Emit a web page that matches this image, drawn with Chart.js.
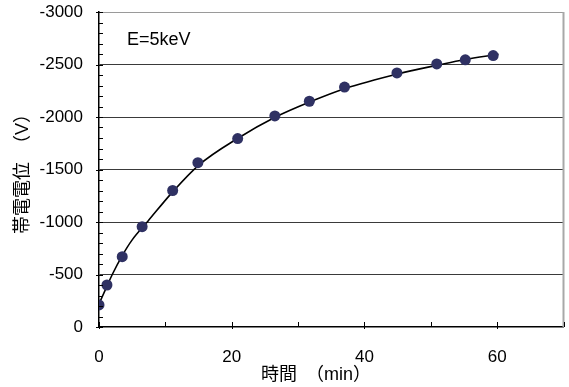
<!DOCTYPE html>
<html>
<head>
<meta charset="utf-8">
<script src="https://cdn.jsdelivr.net/npm/chart.js@4/dist/chart.umd.min.js"></script>
<style>
  html, body { margin: 0; padding: 0; background: #fff; }
  canvas { display: block; }
</style>
</head>
<body>
<canvas id="c" width="569" height="387"></canvas>
<script>
// Measured charging potential (V) versus irradiation time (min)
const measTime = [0, 1.2, 3.5, 6.5, 11.1, 14.9, 20.9, 26.5, 31.7, 37.0, 44.9, 50.9, 55.2, 59.4];
const measVolt = [-210, -400, -670, -955, -1300, -1565, -1795, -2010, -2150, -2285, -2420, -2505, -2545, -2585];

// Fitted trend curve, read at a few points along its length
const fitTime = [0, 1, 2, 3.5, 5, 7.4, 11, 15, 21, 26.6, 32, 37, 45, 51.5, 55, 60.2];
const fitVolt = [-220, -360, -500, -680, -830, -1010, -1280, -1540, -1800, -2000, -2150, -2270, -2410, -2500, -2545, -2597];

// Axis ticks
const xTickLabels = [0, 20, 40, 60];
const yTickLabels = [0, -500, -1000, -1500, -2000, -2500, -3000];
const xMinorStep = 10;
const yMinorStep = 100;

const annotationText = 'E=5keV';
const xTitle = '時間　（min）';
const yTitle = '帯電電位　（V）';

const LATIN = '"Liberation Sans", Arial, sans-serif';
const MIXED = '"Liberation Sans", "Noto Sans CJK JP", sans-serif';

const decorations = {
  id: 'decorations',
  afterDatasetsDraw(chart) {
    const { ctx, chartArea: a, scales: { x, y } } = chart;
    ctx.save();
    // right frame edge
    ctx.strokeStyle = '#a8a8a8';
    ctx.lineWidth = 2;
    ctx.beginPath();
    ctx.moveTo(a.right, a.top);
    ctx.lineTo(a.right, a.bottom);
    ctx.stroke();

    // tick marks on the axes
    ctx.strokeStyle = '#000';
    ctx.lineWidth = 1;
    ctx.beginPath();
    for (let v = y.min; v <= y.max; v += yMinorStep) {
      const py = Math.round(y.getPixelForValue(v)) + 0.5;
      const major = yTickLabels.includes(v);
      ctx.moveTo(a.left - (major ? 3 : 0), py);
      ctx.lineTo(a.left + 4, py);
    }
    for (let v = x.min; v <= x.max; v += xMinorStep) {
      const px = Math.round(x.getPixelForValue(v)) + 0.5;
      const major = xTickLabels.includes(v);
      ctx.moveTo(px, a.bottom + (major ? 2 : 0));
      ctx.lineTo(px, a.bottom - 5);
    }
    ctx.stroke();

    // texts
    ctx.fillStyle = '#000';
    ctx.textBaseline = 'middle';
    ctx.textAlign = 'left';
    ctx.font = '18px ' + LATIN;
    ctx.fillText(annotationText, 127, 40);

    ctx.font = '18px ' + MIXED;
    ctx.fillText(xTitle, 261, 375);

    ctx.translate(23, 234);
    ctx.rotate(-Math.PI / 2);
    ctx.fillText(yTitle, 0, 0);
    ctx.restore();
  }
};

// fixed axis box sizes, no extra label overhang padding
function fixBox(size, horizontal) {
  return s => {
    if (horizontal) s.height = size; else s.width = size;
    s.paddingTop = 0; s.paddingBottom = 0; s.paddingLeft = 0; s.paddingRight = 0;
  };
}

new Chart(document.getElementById('c'), {
  type: 'scatter',
  data: {
    datasets: [
      {
        label: 'fit',
        data: fitTime.map((t, i) => ({ x: t, y: fitVolt[i] })),
        showLine: true,
        borderColor: '#000',
        borderWidth: 1.6,
        pointRadius: 0,
        cubicInterpolationMode: 'monotone',
        order: 2
      },
      {
        label: 'measured',
        data: measTime.map((t, i) => ({ x: t, y: measVolt[i] })),
        showLine: false,
        pointRadius: 5.5,
        pointBackgroundColor: '#2f3163',
        pointBorderColor: '#2f3163',
        pointBorderWidth: 0,
        order: 1
      }
    ]
  },
  options: {
    responsive: false,
    animation: false,
    layout: { padding: { top: 12, right: 2, left: 0, bottom: 0 } },
    plugins: { legend: { display: false }, tooltip: { enabled: false } },
    scales: {
      x: {
        type: 'linear',
        min: 0,
        max: 70,
        afterFit: fixBox(60, true),
        ticks: {
          stepSize: 20,
          color: '#000',
          font: { family: LATIN, size: 17 },
          padding: 20,
          maxRotation: 0,
          callback: v => xTickLabels.includes(v) ? String(v) : ''
        },
        grid: { drawOnChartArea: false, drawTicks: false },
        border: { color: '#000', width: 1.5 }
      },
      y: {
        type: 'linear',
        min: -3000,
        max: 0,
        reverse: true,
        afterFit: fixBox(99, false),
        ticks: {
          stepSize: 500,
          color: '#000',
          font: { family: LATIN, size: 17 },
          padding: 16,
          callback: v => yTickLabels.includes(v) ? String(v) : ''
        },
        grid: {
          drawTicks: false,
          lineWidth: 1,
          color: c => {
            const v = c.tick && c.tick.value;
            if (v === 0) return 'rgba(0,0,0,0)';
            if (v === -3000) return '#9a9a9a';
            return '#3a3a3a';
          }
        },
        border: { color: '#000', width: 1.5 }
      }
    }
  },
  plugins: [decorations]
});
</script>
</body>
</html>
